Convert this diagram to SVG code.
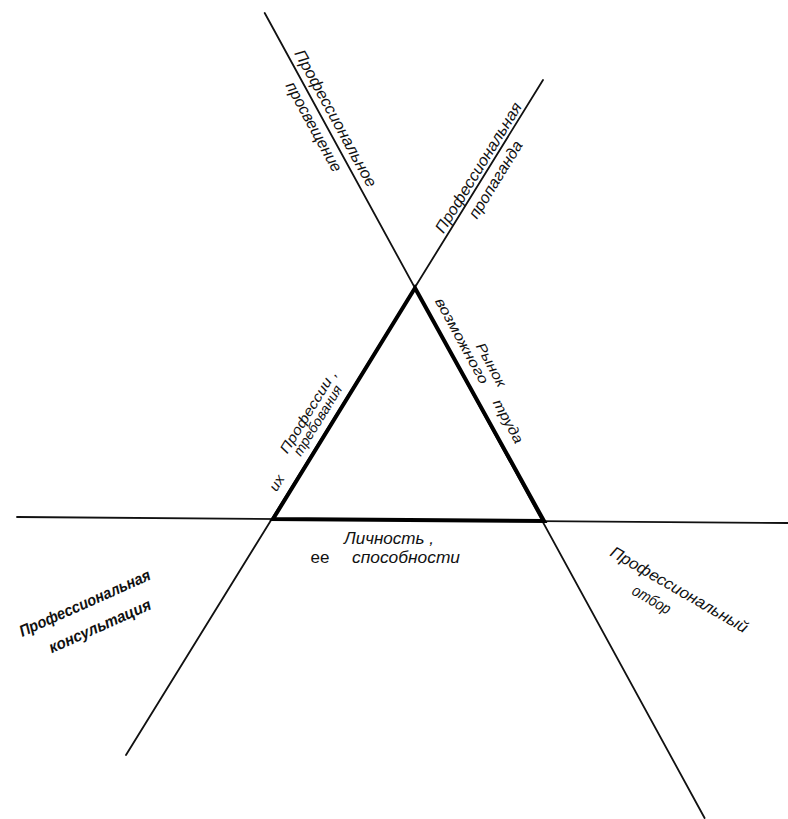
<svg xmlns="http://www.w3.org/2000/svg" width="788" height="819" viewBox="0 0 788 819">
<style>
.thin{stroke:#111;stroke-width:1.8;fill:none;stroke-linecap:round}
.thick{stroke:#000;stroke-width:4;fill:none;stroke-linejoin:miter;stroke-linecap:round}
.t{font-family:"Liberation Sans",Arial,sans-serif;font-style:italic;fill:#111;text-anchor:middle}
.m{font-size:16px}
.s{font-size:14px}
.b{font-size:16px;font-weight:bold}
.u{font-family:"Liberation Sans",Arial,sans-serif;fill:#111;font-size:17px;text-anchor:middle}
</style>
<rect width="788" height="819" fill="#fff"/>
<g id="connectors">
<line class="thin" x1="264.7" y1="13" x2="704.6" y2="818"/>
<line class="thin" x1="543" y1="80" x2="126" y2="755"/>
<line class="thin" x1="17" y1="517" x2="788" y2="523"/>
<polygon class="thick" points="415,288 273,519 544,521"/>
</g>
<g id="node-prosveshchenie">
<text class="t m" transform="translate(330.9,120.8) rotate(61.3)" textLength="154" lengthAdjust="spacingAndGlyphs">Профессиональное</text>
<text class="t m" transform="translate(309.3,129.4) rotate(61.3)" textLength="100" lengthAdjust="spacingAndGlyphs">просвещение</text>
</g>
<g id="node-propaganda">
<text class="t m" transform="translate(483,170.4) rotate(-58.3)" textLength="150" lengthAdjust="spacingAndGlyphs">Профессиональная</text>
<text class="t m" transform="translate(500.2,182.4) rotate(-58.3)" textLength="88" lengthAdjust="spacingAndGlyphs">пропаганда</text>
</g>
<g id="node-professii">
<text class="t s" transform="translate(312.3,414) rotate(-58.3)" textLength="95" lengthAdjust="spacingAndGlyphs">Профессии ,</text>
<text class="t s" transform="translate(321.7,422.9) rotate(-58.3)" textLength="80" lengthAdjust="spacingAndGlyphs">требования</text>
<text class="t s" transform="translate(280.7,485.4) rotate(-58.3)" textLength="16" lengthAdjust="spacingAndGlyphs">их</text>
</g>
<g id="node-rynok">
<text class="t s" transform="translate(457.8,343.1) rotate(61.3)" textLength="96" lengthAdjust="spacingAndGlyphs">возможного</text>
<text class="t s" transform="translate(487,367) rotate(61.3)" textLength="48" lengthAdjust="spacingAndGlyphs">Рынок</text>
<text class="t s" transform="translate(504.1,423.6) rotate(61.3)" textLength="48" lengthAdjust="spacingAndGlyphs">труда</text>
</g>
<g id="node-lichnost">
<text class="t m" x="389" y="544" textLength="90" lengthAdjust="spacingAndGlyphs">Личность ,</text>
<text class="u" x="320" y="563">ее</text>
<text class="t m" x="406" y="563" textLength="108" lengthAdjust="spacingAndGlyphs">способности</text>
</g>
<g id="node-konsultatsiya">
<text class="t b" transform="translate(87,608) rotate(-24)" textLength="142" lengthAdjust="spacingAndGlyphs">Профессиональная</text>
<text class="t b" transform="translate(102,631) rotate(-24)" textLength="110" lengthAdjust="spacingAndGlyphs">консультация</text>
</g>
<g id="node-otbor">
<text class="t m" transform="translate(676.5,594.3) rotate(30)" textLength="156" lengthAdjust="spacingAndGlyphs">Профессиональный</text>
<text class="t m" transform="translate(649,604.3) rotate(30)" textLength="42" lengthAdjust="spacingAndGlyphs">отбор</text>
</g>
</svg>
